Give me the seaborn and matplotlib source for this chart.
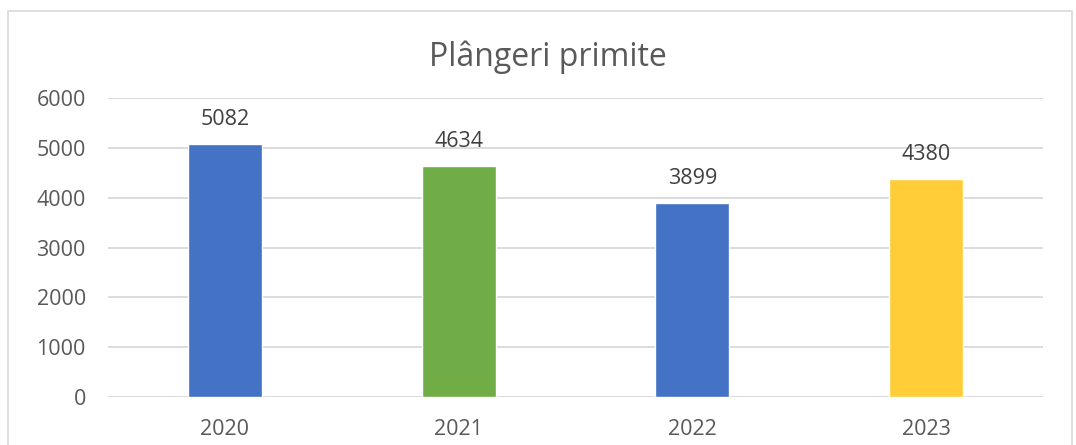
import matplotlib
matplotlib.use("Agg")
import matplotlib.pyplot as plt
import seaborn as sns
import pandas as pd
from matplotlib.patches import Rectangle

years = ["2020", "2021", "2022", "2023"]
values = [5082, 4634, 3899, 4380]
colors = ["#4472C4", "#70AD47", "#4472C4", "#FFCD38"]
yticks = [0, 1000, 2000, 3000, 4000, 5000, 6000]
title = "Plângeri primite"

sns.set_theme(style="white")
plt.rcParams['font.family'] = ['Open Sans', 'DejaVu Sans']
txt = "#595959"
fs = 15.5

fig = plt.figure(figsize=(10.76, 4.45), dpi=100)
ax = fig.add_axes([108/1076, 1-397/445, (1043-108)/1076, (397-98)/445])

df = pd.DataFrame({"year": years, "value": values})
sns.barplot(data=df, x="year", y="value", hue="year", palette=colors,
            legend=False, width=0.317, ax=ax, saturation=1, dodge=False)

ax.set_ylim(0, 6000)
ax.set_yticks(yticks)
ax.set_yticklabels([str(t) for t in yticks], fontsize=fs, color=txt)
ax.set_xticks(range(len(years)))
ax.set_xticklabels(years, fontsize=fs, color=txt)
ax.set_xlabel("")
ax.set_ylabel("")
ax.tick_params(axis="x", length=0, pad=16)
ax.tick_params(axis="y", length=0, pad=16)
ax.grid(axis="y", color="#d9d9d9", linewidth=1.3)
ax.set_axisbelow(True)
for s in ax.spines.values():
    s.set_visible(False)

for c in ax.containers:
    ax.bar_label(c, fmt="%d", padding=10, fontsize=fs, color="#404040")

fig.text(548/1076, 1-57/445, title, ha="center", va="center", fontsize=23, color=txt)

fig.patches.append(Rectangle((8/1076, -0.05), (1072-8)/1076, 1.05-11/445,
                             transform=fig.transFigure, fill=False,
                             edgecolor="#d9d9d9", linewidth=1.2))

fig.savefig("out.png", dpi=100)
